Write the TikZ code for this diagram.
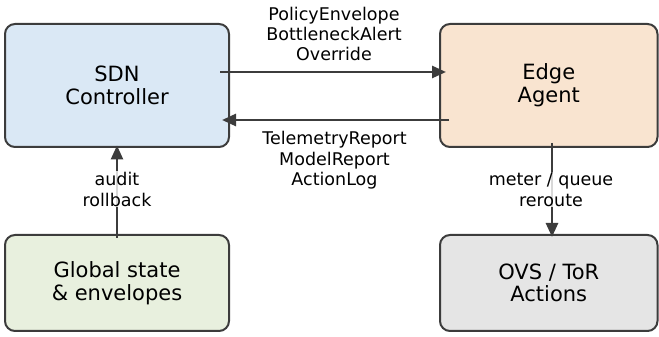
\documentclass[tikz,border=0pt]{standalone}
\usepackage{fontspec}
\setmainfont{DejaVu Sans}
\usetikzlibrary{arrows.meta}
\definecolor{bordc}{HTML}{3C3C3C}
\definecolor{sdnfill}{HTML}{DAE8F5}
\definecolor{edgefill}{HTML}{F9E4D0}
\definecolor{globfill}{HTML}{E8F0DE}
\definecolor{ovsfill}{HTML}{E5E5E5}
\begin{document}
\begin{tikzpicture}[x=1pt,y=1pt,
  box/.style={draw=bordc, line width=2pt, rounded corners=10pt, align=center,
    font=\fontsize{21}{22.6}\selectfont, inner sep=0pt, outer sep=0pt},
  arr/.style={draw=bordc, line width=2.7pt, -{Triangle[length=14pt,width=12pt]}},
  lbl/.style={align=center, font=\fontsize{17.5}{20.4}\selectfont, text=black, inner sep=1pt},
  lblbg/.style={lbl, fill=white, fill opacity=0.8, text opacity=1}
]
\useasboundingbox (0,0) rectangle (659,337);
\node[box, fill=sdnfill, minimum width=224pt, minimum height=123pt] (sdn) at (117,251.5) {SDN\\Controller};
\node[box, fill=edgefill, minimum width=217.5pt, minimum height=123pt] (edge) at (548.75,251.5) {Edge\\Agent};
\node[box, fill=globfill, minimum width=224pt, minimum height=96pt] (glob) at (117,54) {Global state\\\& envelopes};
\node[box, fill=ovsfill, minimum width=217.5pt, minimum height=96pt] (ovs) at (548.75,54) {OVS / ToR\\Actions};

\draw[arr] ([xshift=-9pt,yshift=13.5pt]sdn.east) -- ([xshift=6pt,yshift=13.5pt]edge.west);
\draw[arr] ([xshift=9pt,yshift=-34.5pt]edge.west) -- ([xshift=-7pt,yshift=-34.5pt]sdn.east);
\draw[arr] ([yshift=-3pt]glob.north) -- ([yshift=1.5pt]sdn.south);
\draw[arr] ([xshift=3.25pt,yshift=4pt]edge.south) -- ([xshift=3.25pt,yshift=-2pt]ovs.north);

\node[lbl] (ltop) at (334,303) {PolicyEnvelope\\BottleneckAlert\\Override};
\node[lbl] (lbot) at (334.5,176.6) {TelemetryReport\\ModelReport\\ActionLog};
\node[lblbg] (laudit) at (117,147.6) {audit\\rollback};
\node[lblbg] (lmeter) at (551,147.4) {meter / queue\\reroute};
\end{tikzpicture}
\end{document}
